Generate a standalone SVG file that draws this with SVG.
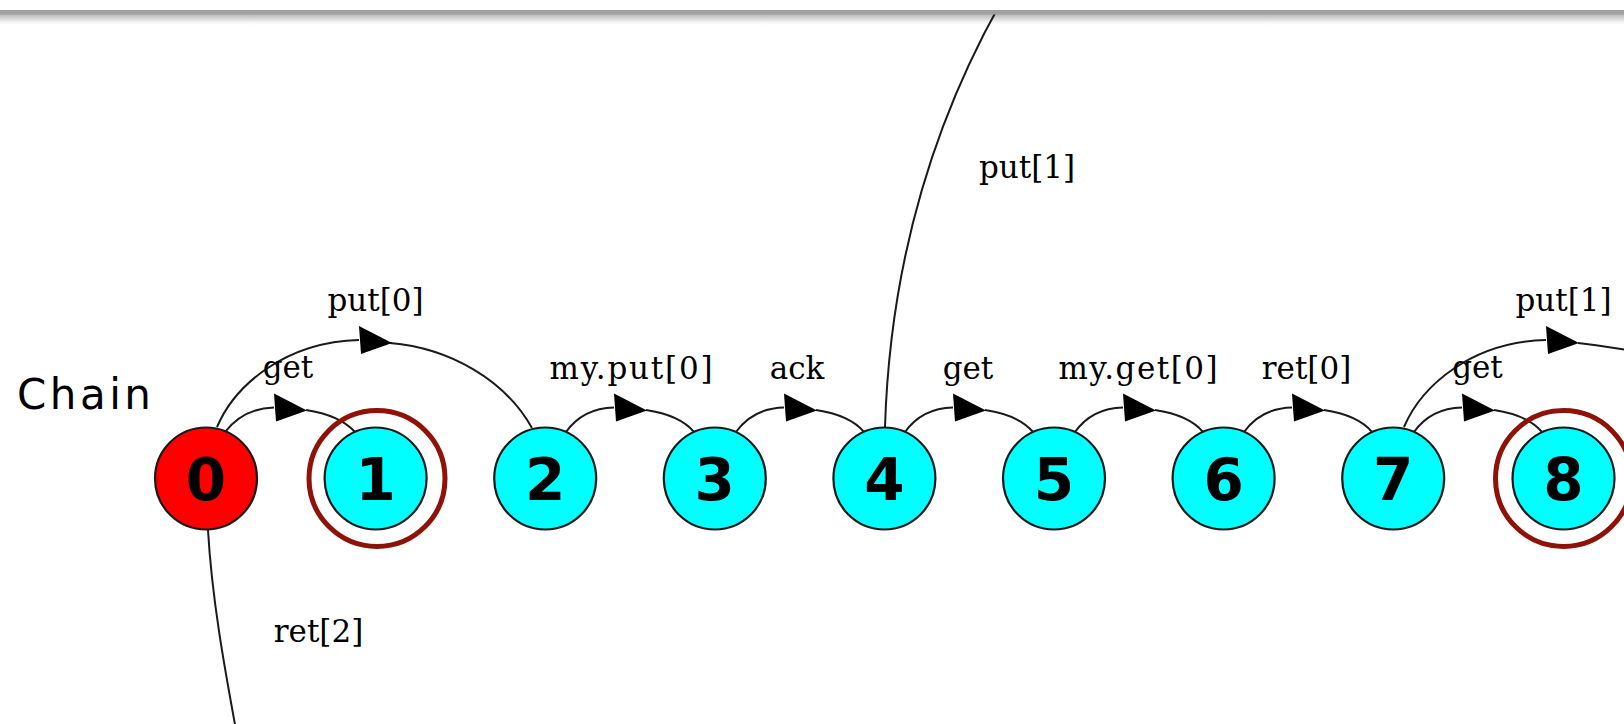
<svg xmlns="http://www.w3.org/2000/svg" width="1624" height="724" viewBox="0 0 1624 724">
  <defs>
    <linearGradient id="shade" x1="0" y1="0" x2="0" y2="1">
      <stop offset="0" stop-color="#b4b4b4"/>
      <stop offset="0.5" stop-color="#e2e2e2"/>
      <stop offset="1" stop-color="#ffffff" stop-opacity="0"/>
    </linearGradient>
    <polygon id="head" points="-17,-14 -15,14 16,3"/>
  </defs>
  <style>
    .state { stroke: #1a1a1a; stroke-width: 2.2; }
    .init { fill: #ff0000; }
    .plain { fill: #00ffff; }
    .final { fill: none; stroke: #8e1208; stroke-width: 5; }
    .num { font-family: "DejaVu Sans", "Liberation Sans", sans-serif; font-weight: bold; font-size: 58px; text-anchor: middle; fill: #000; }
    .edge { fill: none; stroke: #1a1a1a; stroke-width: 2; }
    .tip { fill: #000; }
    .lbl { font-family: "DejaVu Serif", "Liberation Serif", serif; font-size: 31px; text-anchor: middle; fill: #000; }
    .title { font-family: "DejaVu Sans", "Liberation Sans", sans-serif; font-size: 42px; letter-spacing: 3.5px; fill: #000; }
  </style>

  <rect width="1624" height="724" fill="#ffffff"/>

  <!-- soft fade below the window edge -->
  <rect x="0" y="14" width="1624" height="12" fill="url(#shade)"/>

  <text class="title" x="17" y="409">Chain</text>

  <!-- transitions -->
  <g id="connectors">
    <!-- 0 -> 1 get -->
    <path class="edge" d="M 225,432 C 236,418 252,408 274,407.5"/>
    <path class="edge" d="M 306,410 C 326,413 344,420 355,432"/>
    <use href="#head" class="tip" x="291" y="407.5"/>
    <!-- 0 -> 2 put[0] -->
    <path class="edge" d="M 217,427 C 235,385 285,342 359,340"/>
    <path class="edge" d="M 390,343 C 450,348 505,380 532,428"/>
    <use href="#head" class="tip" x="376" y="340"/>
    <!-- 2 -> 3 my.put[0] -->
    <path class="edge" d="M 566,432 C 576,418 592,408 614,407.5"/>
    <path class="edge" d="M 646,410 C 666,413 684,420 694,432"/>
    <use href="#head" class="tip" x="631" y="407.5"/>
    <!-- 3 -> 4 ack -->
    <path class="edge" d="M 736,432 C 746,418 762,408 784,407.5"/>
    <path class="edge" d="M 816,410 C 836,413 854,420 864,432"/>
    <use href="#head" class="tip" x="801" y="407.5"/>
    <!-- 4 -> 5 get -->
    <path class="edge" d="M 905,432 C 915,418 931,408 953,407.5"/>
    <path class="edge" d="M 985,410 C 1005,413 1023,420 1033,432"/>
    <use href="#head" class="tip" x="970" y="407.5"/>
    <!-- 5 -> 6 my.get[0] -->
    <path class="edge" d="M 1075,432 C 1085,418 1101,408 1123,407.5"/>
    <path class="edge" d="M 1155,410 C 1175,413 1193,420 1203,432"/>
    <use href="#head" class="tip" x="1140" y="407.5"/>
    <!-- 6 -> 7 ret[0] -->
    <path class="edge" d="M 1244,432 C 1254,418 1270,408 1292,407.5"/>
    <path class="edge" d="M 1324,410 C 1344,413 1362,420 1372,432"/>
    <use href="#head" class="tip" x="1309" y="407.5"/>
    <!-- 7 -> 8 get -->
    <path class="edge" d="M 1414,432 C 1424,418 1440,408 1462,407.5"/>
    <path class="edge" d="M 1494,410 C 1514,413 1532,420 1542,432"/>
    <use href="#head" class="tip" x="1479" y="407.5"/>
    <!-- 7 -> put[1] (continues right) -->
    <path class="edge" d="M 1404,427 C 1422,385 1472,342 1546,340"/>
    <path class="edge" d="M 1578,343 C 1598,345 1614,348 1640,352"/>
    <use href="#head" class="tip" x="1563" y="340"/>
    <!-- 4 -> put[1] (continues upward) -->
    <path class="edge" d="M 885,427 C 888,330 906,172 1000,4"/>
    <!-- 0 <- ret[2] (continues downward) -->
    <path class="edge" d="M 208,530 C 212,600 225,670 236,730"/>
  </g>

  <g id="edge-labels">
    <text class="lbl" x="375.5" y="311">put[0]</text>
    <text class="lbl" x="288" y="378">get</text>
    <text class="lbl" x="631" y="379" textLength="163" lengthAdjust="spacing">my.put[0]</text>
    <text class="lbl" x="797" y="379">ack</text>
    <text class="lbl" x="968" y="379">get</text>
    <text class="lbl" x="1138" y="379" textLength="159" lengthAdjust="spacing">my.get[0]</text>
    <text class="lbl" x="1306.5" y="379">ret[0]</text>
    <text class="lbl" x="1477.5" y="378">get</text>
    <text class="lbl" x="1563.5" y="311">put[1]</text>
    <text class="lbl" x="1027" y="178">put[1]</text>
    <text class="lbl" x="318.5" y="642">ret[2]</text>
  </g>

  <g id="n0"><circle class="state init" cx="206" cy="478.5" r="51"/><text class="num" x="206" y="500">0</text></g>
  <g id="n1"><circle class="state plain" cx="375.6" cy="478.5" r="51"/><circle class="final" cx="377" cy="478.5" r="68"/><text class="num" x="375.6" y="500">1</text></g>
  <g id="n2"><circle class="state plain" cx="545.2" cy="478.5" r="51"/><text class="num" x="545.2" y="500">2</text></g>
  <g id="n3"><circle class="state plain" cx="714.8" cy="478.5" r="51"/><text class="num" x="714.8" y="500">3</text></g>
  <g id="n4"><circle class="state plain" cx="884.4" cy="478.5" r="51"/><text class="num" x="884.4" y="500">4</text></g>
  <g id="n5"><circle class="state plain" cx="1054" cy="478.5" r="51"/><text class="num" x="1054" y="500">5</text></g>
  <g id="n6"><circle class="state plain" cx="1223.6" cy="478.5" r="51"/><text class="num" x="1223.6" y="500">6</text></g>
  <g id="n7"><circle class="state plain" cx="1393.2" cy="478.5" r="51"/><text class="num" x="1393.2" y="500">7</text></g>
  <g id="n8"><circle class="state plain" cx="1563.5" cy="478.5" r="51"/><circle class="final" cx="1563.5" cy="478.5" r="68"/><text class="num" x="1563.5" y="500">8</text></g>

  <!-- window edge strip along the top -->
  <rect x="0" y="0" width="1624" height="10" fill="#ffffff"/>
  <rect x="0" y="10" width="1624" height="4.5" fill="#a0a0a0"/>
</svg>
